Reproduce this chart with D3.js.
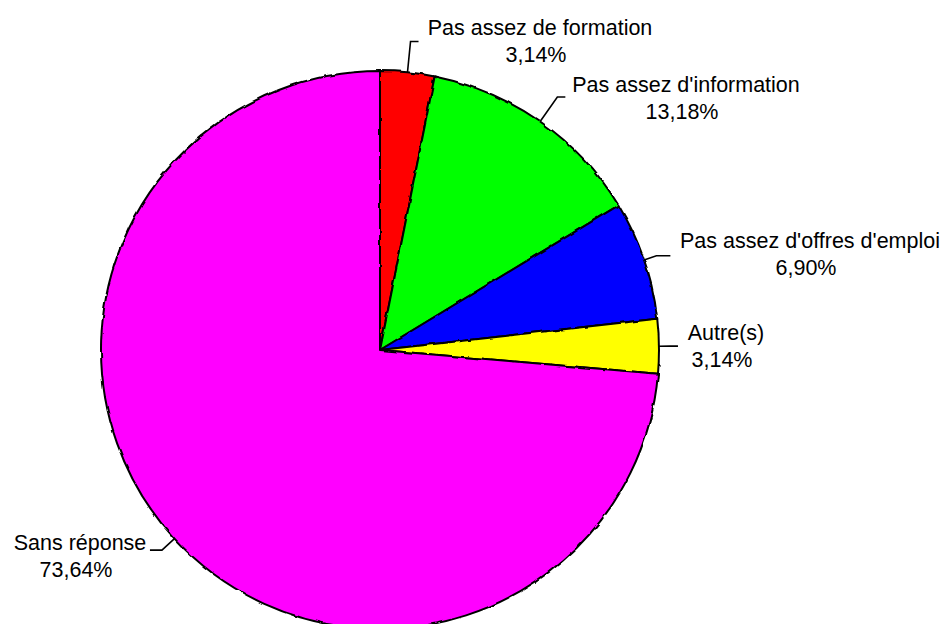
<!DOCTYPE html>
<html>
<head>
<meta charset="utf-8">
<script src="https://cdn.jsdelivr.net/npm/d3@7/dist/d3.min.js"></script>
<style>
  html, body { margin: 0; padding: 0; background: #fff; }
  svg { display: block; }
  text { font-family: "Liberation Sans", Arial, sans-serif; font-size: 21.5px; fill: #000; }
</style>
</head>
<body>
<svg id="chart" width="946" height="624"></svg>
<script>
// Réponses (en %), dans l'ordre horaire à partir de midi
const categories = [
  "Pas assez de formation",
  "Pas assez d'information",
  "Pas assez d'offres d'emploi",
  "Autre(s)",
  "Sans réponse"
];
const values = [3.14, 13.18, 6.90, 3.14, 73.64];
const valueLabels = ["3,14%", "13,18%", "6,90%", "3,14%", "73,64%"];
const colors = ["#ff0000", "#00ff00", "#0000ff", "#ffff00", "#ff00ff"];

// Placement des étiquettes : rayon du coude, extrémité du trait, centre et ligne de base du texte
const labelLayout = [
  { elbowR: 310, endDx: 8,   cx: 540, y: 35 },
  { elbowR: 309, endDx: 8,   cx: 686, y: 92 },
  { elbowR: 292, endDx: 14,  cx: 810, y: 248 },
  { elbowR: 290, endDx: 8,   cx: 726, y: 340 },
  { elbowR: 296, endDx: -12, cx: 80,  y: 550 }
];

const svg = d3.select("#chart");
const cx = 380, cy = 350, r = 279;

const defs = svg.append("defs");
const filt = defs.append("filter").attr("id", "rough")
  .attr("x", "-5%").attr("y", "-5%").attr("width", "110%").attr("height", "110%");
filt.append("feTurbulence").attr("type", "fractalNoise")
  .attr("baseFrequency", 0.08).attr("numOctaves", 2).attr("seed", 3).attr("result", "noise");
filt.append("feDisplacementMap").attr("in", "SourceGraphic").attr("in2", "noise")
  .attr("scale", 3).attr("xChannelSelector", "R").attr("yChannelSelector", "G");

const pie = d3.pie().sort(null).value(d => d)(values);
const arc = d3.arc().innerRadius(0).outerRadius(r);

const g = svg.append("g").attr("transform", `translate(${cx},${cy})`);

g.append("g").attr("filter", "url(#rough)")
  .selectAll("path").data(pie).join("path")
  .attr("d", arc)
  .attr("fill", (d, i) => colors[i])
  .attr("stroke", "#000")
  .attr("stroke-width", 2)
  .attr("stroke-linejoin", "round");

// Traits de rappel et étiquettes
pie.forEach((d, i) => {
  const L = labelLayout[i];
  const a = (d.startAngle + d.endAngle) / 2;
  const p0 = [r * Math.sin(a), -r * Math.cos(a)];
  const p1 = [L.elbowR * Math.sin(a), -L.elbowR * Math.cos(a)];
  const p2 = [p1[0] + L.endDx, p1[1]];
  g.append("path")
    .attr("d", d3.line()([p0, p1, p2]))
    .attr("fill", "none")
    .attr("stroke", "#000")
    .attr("stroke-width", 1.6);

  const t = svg.append("text").attr("text-anchor", "middle");
  t.append("tspan").attr("x", L.cx).attr("y", L.y).text(categories[i]);
  t.append("tspan").attr("x", L.cx - 4).attr("y", L.y + 27).text(valueLabels[i]);
});
</script>
</body>
</html>
